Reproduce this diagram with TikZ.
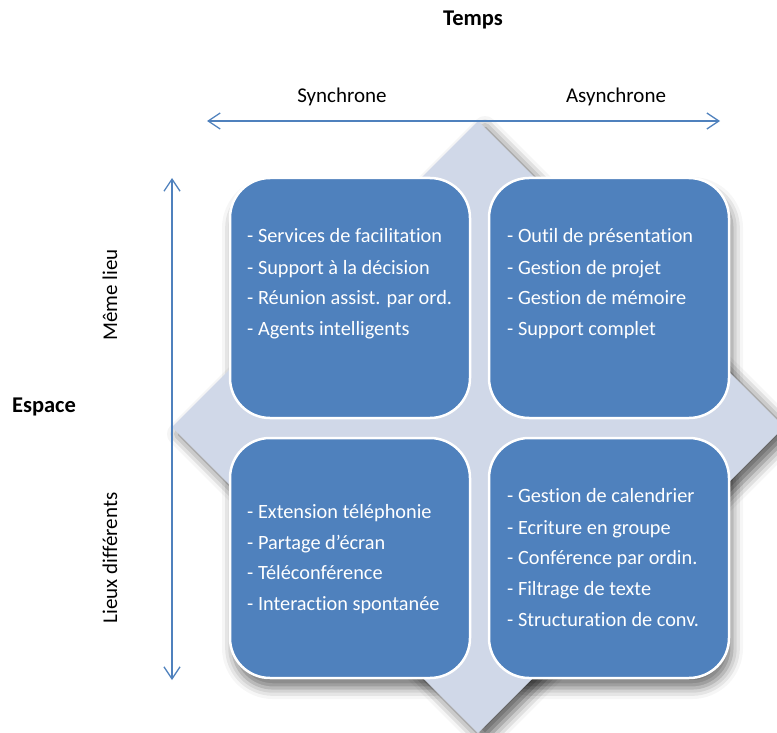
\documentclass[tikz,border=0pt]{standalone}
\usepackage{fontspec}
\setmainfont{Carlito}[Ligatures={NoCommon}]
\usetikzlibrary{shadows.blur,arrows.meta}
\definecolor{boxblue}{HTML}{4F81BD}
\definecolor{diamcol}{HTML}{D0D8E8}
\begin{document}
\begin{tikzpicture}[x=1pt,y=-1pt,
  quad/.style={draw=white, line width=2.5pt, fill=boxblue, rounded corners=40pt,
    minimum width=240pt, minimum height=240pt, inner sep=0pt},
  qshadow/.style={rounded corners=40pt,
    blur shadow={shadow xshift=3pt, shadow yshift=-10pt, shadow blur radius=11pt, shadow opacity=55}},
  item/.style={text=white, anchor=base west, inner sep=0pt, font=\fontsize{20.3}{24}\selectfont},
  lab/.style={text=black, inner sep=0pt, font=\fontsize{21}{24}\selectfont},
  title/.style={text=black, inner sep=0pt, font=\fontsize{22.5}{26}\selectfont\bfseries},
  axis/.style={draw=boxblue, line width=1.3pt, {Straight Barb[length=12pt,width=16pt]}-{Straight Barb[length=12pt,width=16pt]}}
]
\useasboundingbox (0,0) rectangle (777,733);
\begin{scope}
\clip (0,0) rectangle (777,733);
% shadows of the whole group (boxes and diamond)
\path[qshadow] (230,178) rectangle (470,418);
\path[qshadow] (489,178) rectangle (729,418);
\path[qshadow] (230,438) rectangle (470,678);
\path[qshadow] (489,438) rectangle (729,678);
\fill[diamcol, blur shadow={shadow xshift=7pt, shadow yshift=-7pt, shadow blur radius=12pt, shadow opacity=65}]
  (478,121) -- (784,427) -- (478,733) -- (172,427) -- cycle;
\end{scope}

\node[quad] (tl) at (350,298) {};
\node[quad] (tr) at (609,298) {};
\node[quad] (bl) at (350,558) {};
\node[quad] (br) at (609,558) {};

\node[item] (tl1) at (247,243) {- Services de facilitation};
\node[item] (tl2) at (247,274) {- Support à la décision};
\node[item] (tl3) at (247,304) {- Réunion assist. par ord.};
\node[item] (tl4) at (247,335) {- Agents intelligents};

\node[item] (tr1) at (507,243) {- Outil de présentation};
\node[item] (tr2) at (507,274) {- Gestion de projet};
\node[item] (tr3) at (507,304) {- Gestion de mémoire};
\node[item] (tr4) at (507,335) {- Support complet};

\node[item] (bl1) at (247,518) {- Extension téléphonie};
\node[item] (bl2) at (247,549) {- Partage d’écran};
\node[item] (bl3) at (247,579) {- Téléconférence};
\node[item] (bl4) at (247,610) {- Interaction spontanée};

\node[item] (br1) at (507,502) {- Gestion de calendrier};
\node[item] (br2) at (507,534) {- Ecriture en groupe};
\node[item] (br3) at (507,564) {- Conférence par ordin.};
\node[item] (br4) at (507,595) {- Filtrage de texte};
\node[item] (br5) at (507,626) {- Structuration de conv.};

\coordinate (hl) at (207,121);
\coordinate (hr) at (720,121);
\coordinate (vt) at (172,178);
\coordinate (vb) at (172,680);
\draw[axis] (hl) -- (hr);
\draw[axis] (vt) -- (vb);

\node[title] (temps) at (473,20) {Temps};
\node[title] (espace) at (44,407) {Espace};
\node[lab] (sync) at (342,97) {Synchrone};
\node[lab] (async) at (616,97) {Asynchrone};
\node[lab, rotate=90] (meme) at (110,295) {Même lieu};
\node[lab, rotate=90] (lieux) at (110,558) {Lieux différents};
\end{tikzpicture}
\end{document}
